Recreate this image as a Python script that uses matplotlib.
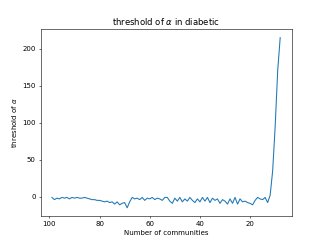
import matplotlib
matplotlib.use("Agg")
import matplotlib.pyplot as plt

# --------------------------------------------------------
# Data: number of communities vs. threshold of alpha
# --------------------------------------------------------
communities = list(range(99, 7, -1))

threshold = [
    # 99 .. 86
    -1, -4, -2, -3, -1, -2, -1, -3, -1, -2, -1, -2, -2, -1,
    # 85 .. 70
    -2, -3, -4, -4, -5, -5, -6, -7, -6, -8, -7, -10, -7, -11, -9, -8,
    # 69 .. 50
    -15, -7, -1, -3, -2, -4, -1, -5, -2, -3, -1, -4, -2, -3, -5, -1, -1, -6, -9, -2,
    # 49 .. 30
    -6, -1, -7, -3, -6, -1, -5, -8, -3, -7, -1, -6, -1, -8, -2, -5, -3, -9, -4, -6,
    # 29 .. 13
    -10, -3, -9, -1, -10, -3, -7, -6, -8, -9, -11, -5, -1, -3, -4, -1, -8,
    # 12 .. 8
    2, 35, 95, 170, 215,
]

# --------------------------------------------------------
# Plot
# --------------------------------------------------------
fig = plt.figure(figsize=(6.4, 4.8), dpi=50.625)
ax = fig.add_subplot(111)
ax.plot(communities, threshold)
ax.invert_xaxis()
ax.set_title(r"threshold of $\alpha$ in diabetic")
ax.set_xlabel("Number of communities")
ax.set_ylabel(r"threshold of $\alpha$")

fig.savefig("out.png")
